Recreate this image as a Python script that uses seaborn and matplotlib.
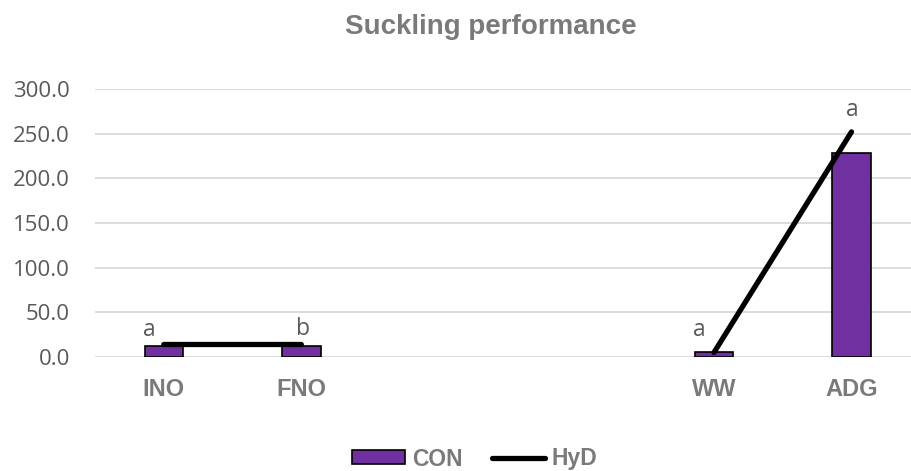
import numpy as np
import pandas as pd
import matplotlib
matplotlib.use("Agg")
import matplotlib.pyplot as plt
import seaborn as sns
from matplotlib.patches import Patch
from matplotlib.lines import Line2D

# --- data ---
categories = ["INO", "FNO", "", " ", "WW", "ADG"]
con_values = [12.6, 12.6, np.nan, np.nan, 5.3, 228.0]
hyd_values = [14.0, 14.0, np.nan, np.nan, 5.0, 252.0]
letters = ["a", "b", None, None, "a", "a"]
y_ticks = [0, 50, 100, 150, 200, 250, 300]

# label nudges in pixels (dx, dy)
letter_offsets = [(-14, 14), (2, 15), None, None, (-15, 23), (1, 22)]

sns.set_style("white")
plt.rcParams["font.family"] = ["Liberation Sans", "DejaVu Sans"]

fig = plt.figure(figsize=(9.12, 4.71), dpi=100)
ax = fig.add_axes([95 / 912, 114 / 471, 1 - 95 / 912, 268 / 471])

df = pd.DataFrame({"cat": categories, "CON": con_values})
sns.barplot(data=df, x="cat", y="CON", order=categories, color="#7030A0",
            saturation=1, width=0.28, edgecolor="black", linewidth=1.2,
            ax=ax, zorder=3)

xpos = np.arange(len(categories))
ax.plot(xpos, hyd_values, color="black", linewidth=3.8, solid_capstyle="round", zorder=4)

for i, lt in enumerate(letters):
    if lt is None:
        continue
    dx, dy = letter_offsets[i]
    ax.annotate(lt, xy=(i, hyd_values[i]), xytext=(dx, dy), textcoords="offset pixels",
                ha="center", va="center", fontsize=16.5, color="#595959",
                family=["Open Sans", "DejaVu Sans"], zorder=5)

ax.set_xlim(-0.5, 5.44)
ax.set_ylim(0, 300)
ax.set_yticks(y_ticks)
ax.set_yticklabels([f"{v:.1f}" for v in y_ticks], color="#595959", fontsize=16,
                   family=["Open Sans", "DejaVu Sans"])
ax.set_xticks(xpos)
ax.set_xticklabels(categories, fontsize=17, fontweight="bold", color="#7a7a7a")
ax.tick_params(axis="both", length=0)
ax.tick_params(axis="x", pad=15)
ax.tick_params(axis="y", pad=18)
ax.yaxis.grid(True, color="#d9d9d9", linewidth=1.3, zorder=0)
ax.set_axisbelow(True)
for s in ax.spines.values():
    s.set_visible(False)
ax.set_xlabel("")
ax.set_ylabel("")

fig.text(491 / 912, 1 - 27 / 471, "Suckling performance", ha="center", va="center",
         fontsize=20, fontweight="bold", color="#7a7a7a")

handles = [Patch(facecolor="#7030A0", edgecolor="black", linewidth=1.2, label="CON"),
           Line2D([0], [0], color="black", linewidth=3.8, label="HyD")]
leg = fig.legend(handles=handles, loc="center", bbox_to_anchor=(475 / 912, 1 - 459 / 471),
                 ncol=2, frameon=False, handlelength=2.3, handleheight=0.55,
                 handletextpad=0.3, columnspacing=1.3,
                 prop={"weight": "bold", "size": 16.5})
for t in leg.get_texts():
    t.set_color("#7a7a7a")

fig.savefig("out.png", dpi=100)
